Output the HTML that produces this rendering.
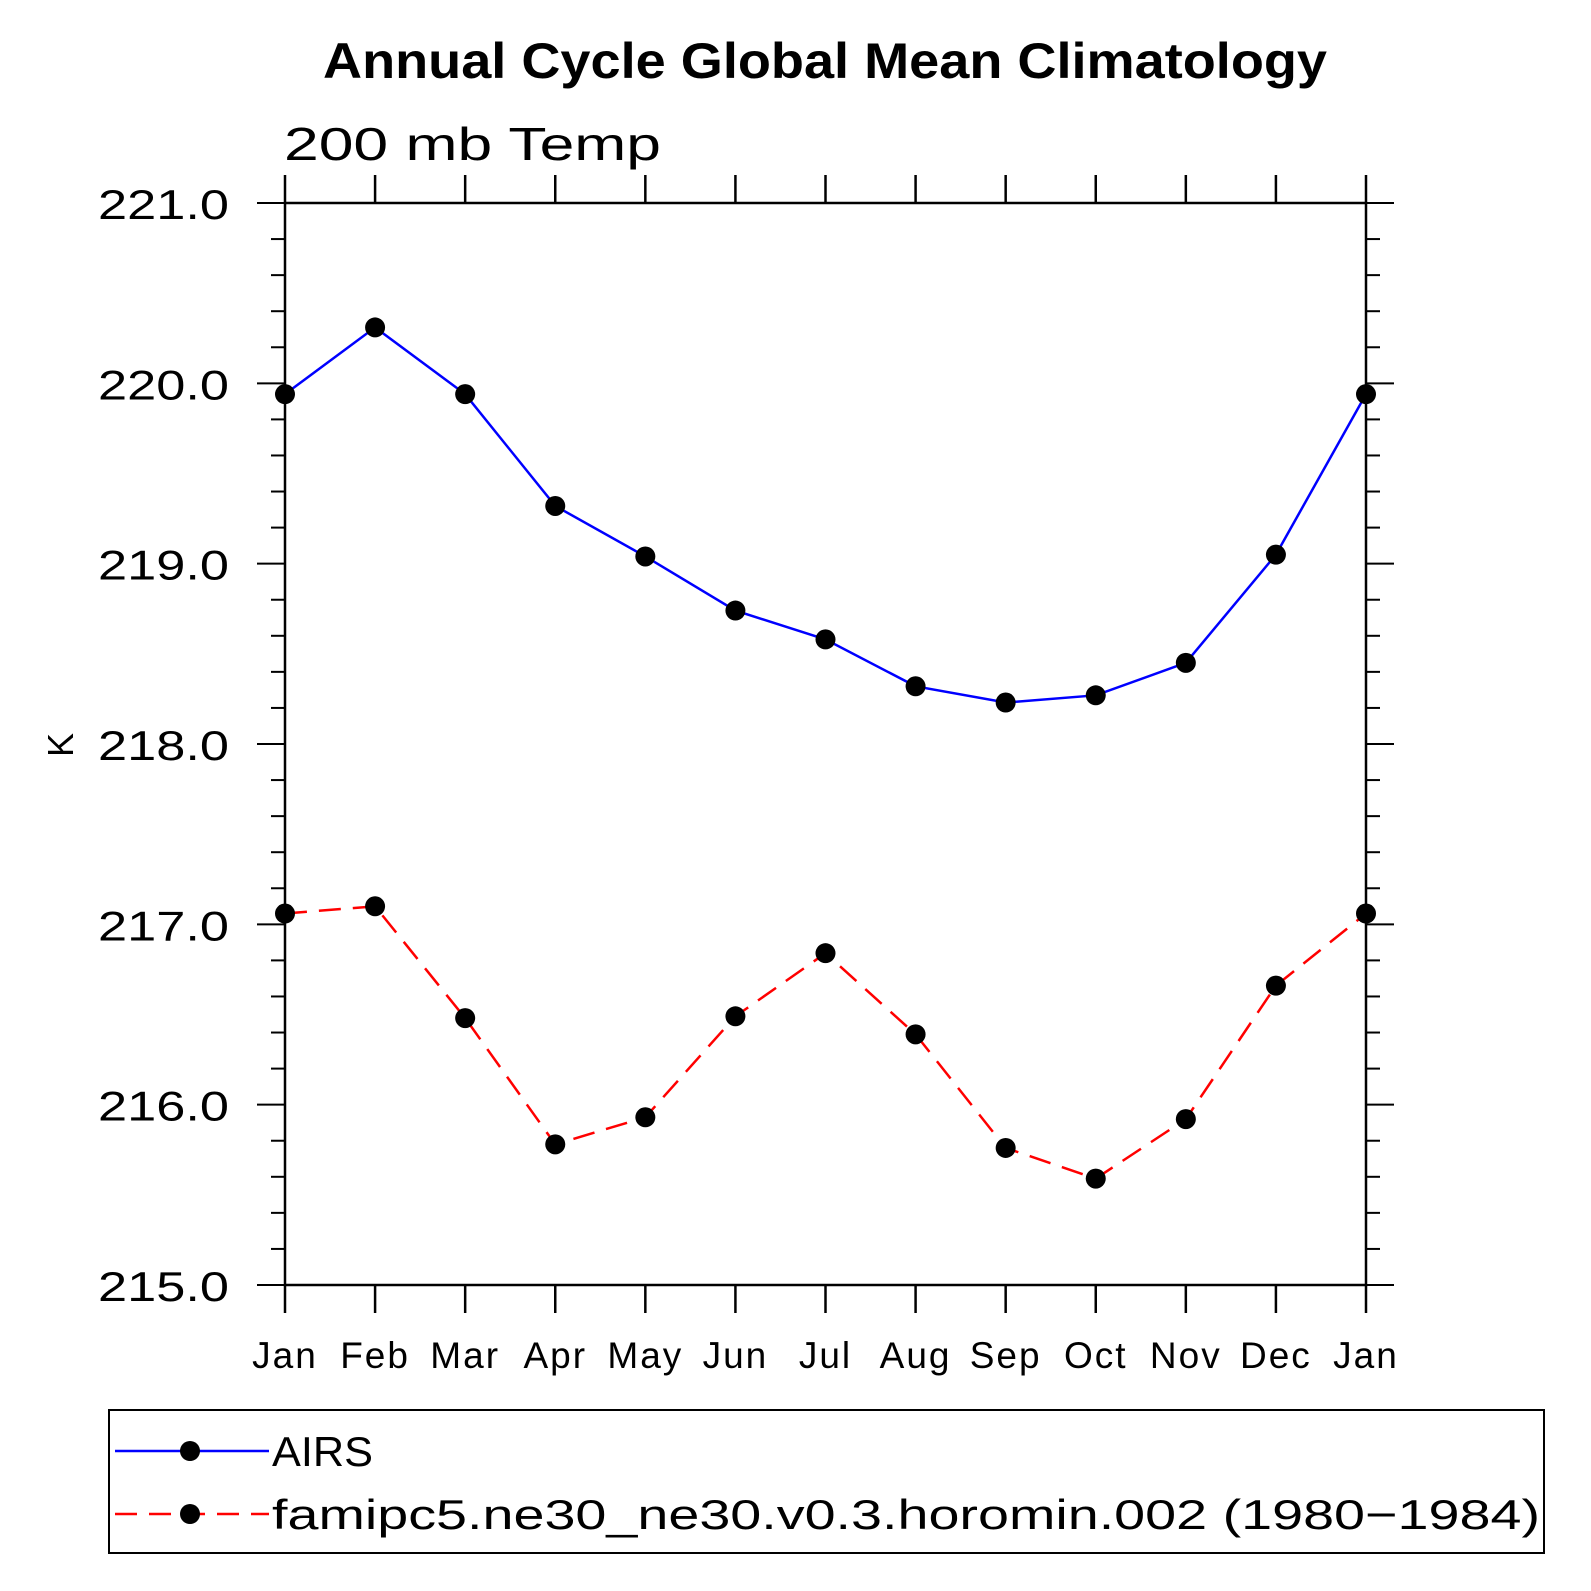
<!DOCTYPE html>
<html><head><meta charset="utf-8"><style>
html,body{margin:0;padding:0;background:#fff;}
svg{display:block;font-family:"Liberation Sans",sans-serif;}
</style></head><body>
<svg id="chart" width="1591" height="1591" viewBox="0 0 1591 1591" xmlns="http://www.w3.org/2000/svg">
<text x="323" y="78" font-size="50" font-weight="bold" textLength="1004" lengthAdjust="spacingAndGlyphs">Annual Cycle Global Mean Climatology</text>
<text x="284" y="160" font-size="46" textLength="377" lengthAdjust="spacingAndGlyphs">200 mb Temp</text>
<text transform="translate(73,745) rotate(-90)" font-size="36" text-anchor="middle">K</text>
<g id="axes"></g>
<g id="series"></g>
<rect x="109" y="1410" width="1435" height="143" fill="none" stroke="#000" stroke-width="2"/>
<g>
<line x1="115" y1="1451" x2="269" y2="1451" stroke="#0000ff" stroke-width="2.5"/>
<circle cx="190" cy="1451" r="10"/>
<text x="272" y="1466" font-size="42" textLength="101" lengthAdjust="spacingAndGlyphs">AIRS</text>
</g>
<g>
<line x1="115" y1="1514" x2="269" y2="1514" stroke="#ff0000" stroke-width="2.5" stroke-dasharray="22,12"/>
<circle cx="190" cy="1514" r="10"/>
<text x="272" y="1529" font-size="42" textLength="1268" lengthAdjust="spacingAndGlyphs">famipc5.ne30_ne30.v0.3.horomin.002 (1980−1984)</text>
</g>
</svg>
<script>
const months = ["Jan","Feb","Mar","Apr","May","Jun","Jul","Aug","Sep","Oct","Nov","Dec","Jan"];
const airs = [219.94,220.31,219.94,219.32,219.04,218.74,218.58,218.32,218.23,218.27,218.45,219.05,219.94];
const model = [217.06,217.10,216.48,215.78,215.93,216.49,216.84,216.39,215.76,215.59,215.92,216.66,217.06];
const yTicks = [215,216,217,218,219,220,221];
const yTickLabels = ["215.0","216.0","217.0","218.0","219.0","220.0","221.0"];

const L=285,R=1366,T=203,B=1285,yMin=215,yMax=221;
const NS="http://www.w3.org/2000/svg";
const xs=i=>L+(R-L)*i/(months.length-1);
const ys=v=>B-(B-T)*(v-yMin)/(yMax-yMin);
function mk(tag,attrs,parent){const e=document.createElementNS(NS,tag);for(const k in attrs)e.setAttribute(k,attrs[k]);parent.appendChild(e);return e;}
const ax=document.getElementById('axes');
const frame=mk('rect',{x:L,y:T,width:R-L,height:B-T,fill:'none',stroke:'#000','stroke-width':2.5},ax);


for(let v=yMin*5;v<=yMax*5;v++){
  const val=v/5, y=ys(val), major=(v%5===0), len=major?28:14;
  const t1=mk('line',{x1:L-len,y1:y,x2:L,y2:y,stroke:'#000','stroke-width':2},ax);
  
  
  const t2=mk('line',{x1:R,y1:y,x2:R+len,y2:y,stroke:'#000','stroke-width':2},ax);
  
  
}
yTicks.forEach((v,i)=>{
  const t=mk('text',{x:98,y:ys(v)+16,'font-size':42,textLength:131,lengthAdjust:'spacingAndGlyphs'},ax);
  t.textContent=yTickLabels[i];
  
  
});
months.forEach((m,i)=>{
  const x=xs(i);
  const tb=mk('line',{x1:x,y1:B,x2:x,y2:B+28,stroke:'#000','stroke-width':2.5},ax);
  
  
  const tt=mk('line',{x1:x,y1:T-28,x2:x,y2:T,stroke:'#000','stroke-width':2.5},ax);
  
  
  const t=mk('text',{x:x,y:1368,'font-size':37,'text-anchor':'middle','letter-spacing':2},ax);
  t.textContent=m;
  
  
});
const sg=document.getElementById('series');
function drawSeries(vals,color,dash,name){
  const pts=vals.map((v,i)=>xs(i)+','+ys(v)).join(' ');
  const pl=mk('polyline',{points:pts,fill:'none',stroke:color,'stroke-width':2.5},sg);
  if(dash)pl.setAttribute('stroke-dasharray',dash);
  
  
  vals.forEach((v,i)=>{
    const c=mk('circle',{cx:xs(i),cy:ys(v),r:10,fill:'#000'},sg);
    
    
  });
}
drawSeries(airs,'#0000ff',null,'airs');
drawSeries(model,'#ff0000','22,12','model');
</script>
</body></html>
